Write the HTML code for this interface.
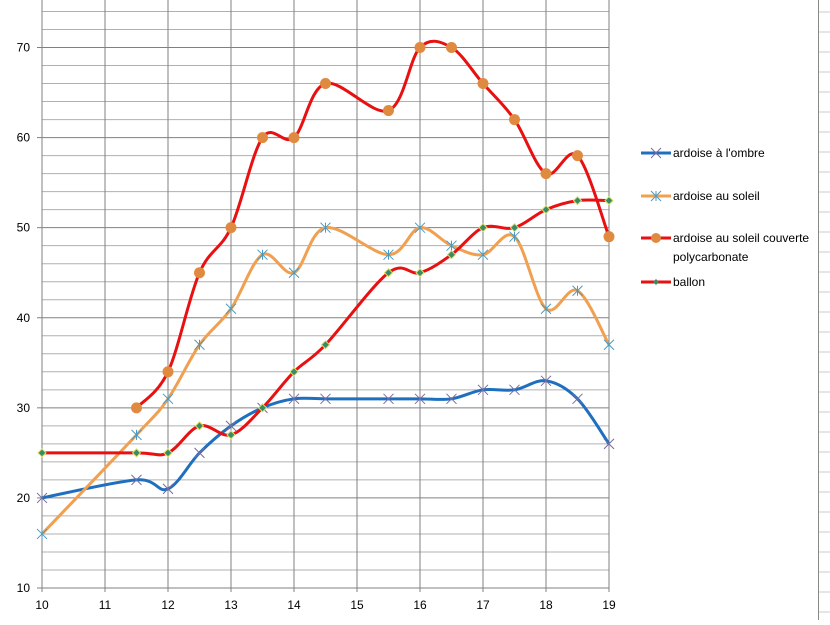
<!DOCTYPE html>
<html><head><meta charset="utf-8"><style>
body{margin:0;background:#fff;width:830px;height:620px;overflow:hidden;font-family:"Liberation Sans",sans-serif}
svg text{font-family:"Liberation Sans",sans-serif;font-size:12px;fill:#000}
</style></head><body>
<svg id="c" width="830" height="620"></svg>
<script>
const xs=[10,11.5,12,12.5,13,13.5,14,14.5,15.5,16,16.5,17,17.5,18,18.5,19];
const ombre=[20,22,21,25,28,30,31,31,31,31,31,32,32,33,31,26];
const soleil=[16,27,31,37,41,47,45,50,47,50,48,47,49,41,43,37];
const polyX=[11.5,12,12.5,13,13.5,14,14.5,15.5,16,16.5,17,17.5,18,18.5,19];
const poly=[30,34,45,50,60,60,66,63,70,70,66,62,56,58,49];
const ballon=[25,25,25,28,27,30,34,37,45,45,47,50,50,52,53,53];
const xTicks=[10,11,12,13,14,15,16,17,18,19];
const yTicks=[10,20,30,40,50,60,70];
const NS='http://www.w3.org/2000/svg';
const svg=document.getElementById('c');
const X=v=>42+(v-10)*63;
const Y=v=>588-(v-10)*9.0083;
function el(t,a,p){const e=document.createElementNS(NS,t);for(const k in a)e.setAttribute(k,a[k]);(p||svg).appendChild(e);return e;}
// spreadsheet background on right
for(let y=12;y<620;y+=20){const l=el('line',{x1:818,x2:830,y1:y,y2:y,stroke:'#ccc'});}
const bl=el('line',{x1:818.5,x2:818.5,y1:0,y2:620,stroke:'#888'});

// minor horizontal grid
for(let v=10;v<=76;v+=2){const g=el('line',{x1:42,x2:609,y1:Y(v),y2:Y(v),stroke:v%10==0?'#808080':'#b0b0b0','stroke-width':1});
}
for(const t of xTicks){const g=el('line',{x1:X(t),x2:X(t),y1:0,y2:592,stroke:'#808080'});

const tx=el('text',{x:X(t),y:609,'text-anchor':'middle'});tx.textContent=t;
}
for(const t of yTicks){const tx=el('text',{x:30,y:Y(t)+4,'text-anchor':'end'});tx.textContent=t;

const tk=el('line',{x1:37,x2:42,y1:Y(t),y2:Y(t),stroke:'#808080'});}
function path(px,py){const p=px.map((x,i)=>[X(x),Y(py[i])]);let d='M'+p[0];
for(let i=0;i<p.length-1;i++){const a=p[i-1]||p[i],b=p[i],c=p[i+1],e=p[i+2]||c,k=6;
d+=` C${b[0]+(c[0]-a[0])/k},${b[1]+(c[1]-a[1])/k} ${c[0]-(e[0]-b[0])/k},${c[1]-(e[1]-b[1])/k} ${c[0]},${c[1]}`;}return d;}
function cross(g,x,y,c,star){const s=5;el('path',{d:`M${x-s},${y-s}L${x+s},${y+s}M${x-s},${y+s}L${x+s},${y-s}`+(star?`M${x},${y-s}L${x},${y+s}`:''),stroke:c,'stroke-width':1,fill:'none'},g);}
function series(name,px,py,col,mk){const g=el('g',{});
const l=el('path',{d:path(px,py),stroke:col,'stroke-width':3,fill:'none'},g);
px.forEach((x,i)=>mk(g,X(x),Y(py[i])));}
series('ardoise-ombre',xs,ombre,'#1f6fbf',(g,x,y)=>cross(g,x,y,'#7a6aa0',false));
series('ardoise-soleil',xs,soleil,'#f0a050',(g,x,y)=>cross(g,x,y,'#4a9ac0',true));
series('polycarbonate',polyX,poly,'#e81010',(g,x,y)=>el('circle',{cx:x,cy:y,r:5.5,fill:'#e08a40'},g));
series('ballon',xs,ballon,'#e81010',(g,x,y)=>el('path',{d:`M${x},${y-4}L${x+4},${y}L${x},${y+4}L${x-4},${y}Z`,fill:'#3a8a6a',stroke:'#d8e060','stroke-width':1},g));
// legend
const leg=[['ardoise à l\'ombre',153,'#1f6fbf','x'],['ardoise au soleil',196,'#f0a050','*'],['ardoise au soleil couverte',238,'#e81010','o'],['ballon',282,'#e81010','d']];
leg.forEach(([t,y,c,m])=>{const g=el('g',{});
el('line',{x1:641,x2:671,y1:y,y2:y,stroke:c,'stroke-width':3},g);
if(m=='x')cross(g,656,y,'#7a6aa0',false);if(m=='*')cross(g,656,y,'#4a9ac0',true);
if(m=='o')el('circle',{cx:656,cy:y,r:5,fill:'#e08a40'},g);
if(m=='d')el('path',{d:`M656,${y-3}L659,${y}L656,${y+3}L653,${y}Z`,fill:'#3a8a6a'},g);
const tx=el('text',{x:673,y:y+4},g);tx.textContent=t;});
const t2=el('text',{x:673,y:261});t2.textContent='polycarbonate';
</script>
</body></html>
